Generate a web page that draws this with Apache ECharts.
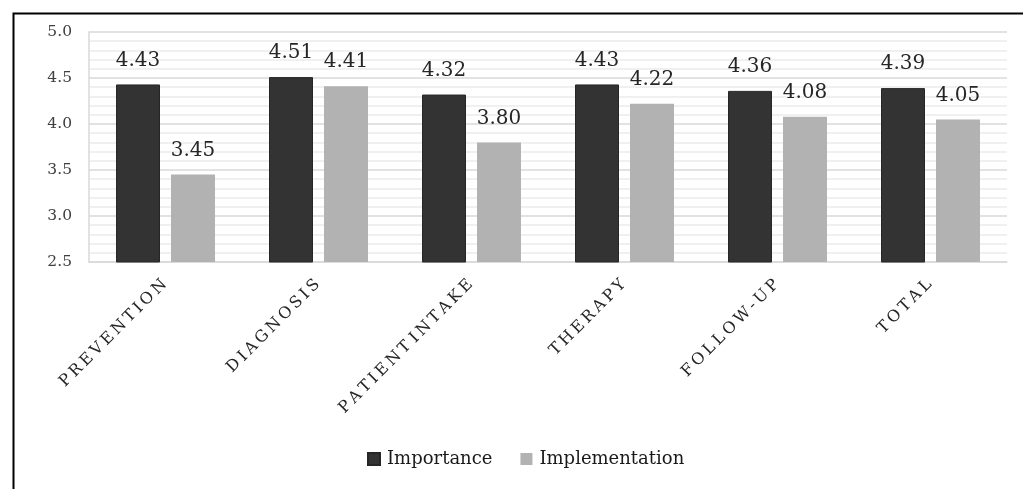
<!DOCTYPE html>
<html>
<head>
<meta charset="utf-8">
<script src="https://cdn.jsdelivr.net/npm/echarts@6/dist/echarts.min.js"></script>
<style>
html,body{margin:0;padding:0;background:#fff;}
#chart{width:1023px;height:489px;}
</style>
</head>
<body>
<div id="chart"></div>
<script>
const categories = ['PREVENTION', 'DIAGNOSIS', 'PATIENT INTAKE', 'THERAPY', 'FOLLOW-UP', 'TOTAL'];
const importance = [4.43, 4.51, 4.32, 4.43, 4.36, 4.39];
const implementation = [3.45, 4.41, 3.80, 4.22, 4.08, 4.05];
const seriesNames = ['Importance', 'Implementation'];

const chart = echarts.init(document.getElementById('chart'), null, {renderer: 'canvas'});
const serif = 'DejaVu Serif';

const labelStyle = {
  show: true,
  position: 'top',
  distance: 14,
  fontFamily: serif,
  fontSize: 20,
  color: '#262626',
  formatter: p => p.value.toFixed(2)
};

chart.setOption({
  backgroundColor: '#fff',
  animation: false,
  graphic: [{
    type: 'rect',
    left: 11, top: 11,
    shape: {width: 1100, height: 600},
    style: {fill: 'none', stroke: '#000', lineWidth: 2},
    silent: true
  }],
  grid: {left: 89, right: 16, top: 32, bottom: 227, containLabel: false},
  legend: {
    data: seriesNames,
    left: 367,
    top: 450,
    padding: 0,
    icon: 'rect',
    itemWidth: 12,
    itemHeight: 12,
    itemGap: 28,
    textStyle: {fontFamily: serif, fontSize: 18, color: '#1a1a1a', padding: [0, 0, 0, 2]}
  },
  xAxis: {
    type: 'category',
    data: categories,
    axisLine: {show: true, lineStyle: {color: '#d9d9d9', width: 1.5}},
    axisTick: {show: false},
    axisLabel: {
      rotate: 45,
      interval: 0,
      margin: 19,
      fontFamily: serif,
      fontSize: 16,
      color: '#262626',
      formatter: v => v.split('').map(c => c === ' ' ? '{sp| }' : '{s|' + c + '}').join(''),
      rich: {
        s: {fontFamily: serif, fontSize: 16, color: '#262626', padding: [0, 1.6, 0, 1.6]},
        sp: {fontFamily: serif, fontSize: 6, padding: 0}
      }
    }
  },
  yAxis: {
    type: 'value',
    min: 2.5,
    max: 5,
    interval: 0.5,
    axisLine: {show: true, lineStyle: {color: '#d9d9d9', width: 1.5}},
    axisTick: {show: false},
    axisLabel: {
      margin: 17,
      fontFamily: serif,
      fontSize: 15.5,
      color: '#404040',
      formatter: v => v.toFixed(1)
    },
    splitLine: {show: true, lineStyle: {color: '#d9d9d9', width: 1.5}},
    minorTick: {show: false, splitNumber: 5},
    minorSplitLine: {show: true, lineStyle: {color: '#ebebeb', width: 1.5}}
  },
  series: [
    {
      name: seriesNames[0],
      type: 'bar',
      data: importance,
      barWidth: 44,
      barGap: '25%',
      itemStyle: {color: '#333333', borderColor: '#262626', borderWidth: 1},
      label: labelStyle
    },
    {
      name: seriesNames[1],
      type: 'bar',
      data: implementation,
      barWidth: 44,
      barGap: '25%',
      itemStyle: {color: '#b2b2b2'},
      label: labelStyle
    }
  ]
});
</script>
</body>
</html>
